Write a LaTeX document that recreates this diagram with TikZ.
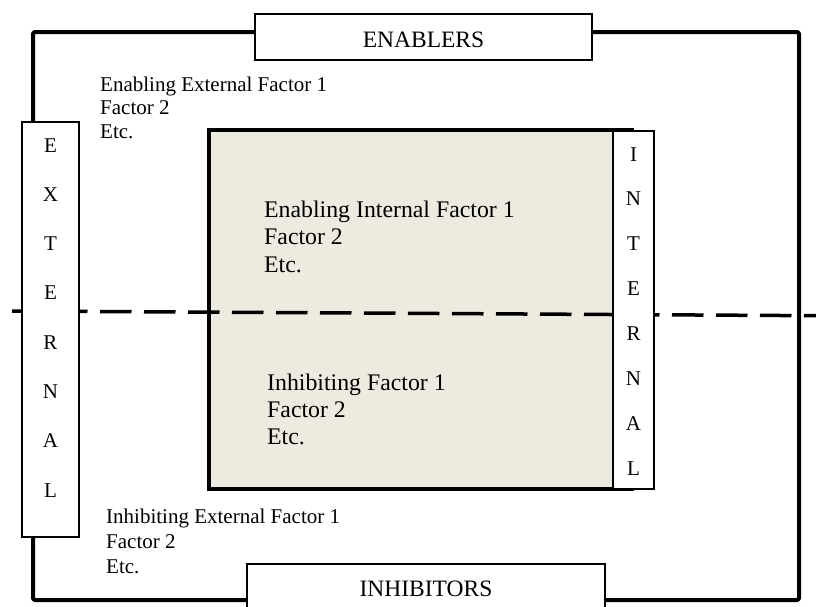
\documentclass[tikz,border=0pt]{standalone}
\usepackage{fontspec}
\setmainfont{Liberation Serif}
\definecolor{innerfill}{RGB}{237,234,224}
\begin{document}
\begin{tikzpicture}[x=1pt,y=-1pt,
  frame/.style={draw=black,line width=4pt,rounded corners=2pt,inner sep=0pt,line join=round},
  innerbox/.style={draw=black,fill=innerfill,line width=4.5pt,inner sep=0pt},
  thinbox/.style={draw=black,fill=white,line width=1.2pt,inner sep=0pt},
  dashline/.style={line width=3.5pt,dash pattern=on 31.5pt off 12.5pt},
  headtext/.style={font=\fontsize{23.5}{27}\selectfont,inner sep=0pt,anchor=base},
  lettertext/.style={font=\fontsize{21}{24}\selectfont,inner sep=0pt,anchor=base},
  exttext/.style={font=\fontsize{21}{#1}\selectfont,inner sep=0pt,anchor=base west,align=left},
  inttext/.style={font=\fontsize{23.8}{#1}\selectfont,inner sep=0pt,anchor=base west,align=left}
]
\clip (0,0) rectangle (816,606);
\useasboundingbox (0,0) rectangle (816,606);

% outer frame
\node[frame,minimum width=766pt,minimum height=568pt] (frame) at (416,316) {};
% inner field
\node[innerbox,minimum width=423pt,minimum height=359pt] (inner) at (420.5,309.5) {};
% dashed divider
\coordinate (dashL) at (12,311);
\coordinate (dashR) at (816,315.7);
\draw[dashline] (dashL) -- (dashR);

% side boxes
\node[thinbox,minimum width=57pt,minimum height=415pt] (external) at (50.5,329.5) {};
\node[thinbox,minimum width=41pt,minimum height=358pt] (internal) at (633.5,310) {};
% header / footer boxes
\node[thinbox,minimum width=337pt,minimum height=46pt] (enablers) at (423.5,37) {};
\node[thinbox,minimum width=358pt,minimum height=60pt] (inhibitors) at (426,594) {};

\node[headtext] (enablersT) at (423.5,47) {ENABLERS};
\node[headtext] (inhibitorsT) at (426,596) {INHIBITORS};

\foreach \c [count=\i] in {E,X,T,E,R,N,A,L}
  \node[lettertext] (ext\i) at (50.5,{152+49.3*(\i-1)}) {\c};
\foreach \c [count=\i] in {I,N,T,E,R,N,A,L}
  \node[lettertext] (int\i) at (633.5,{161+44.9*(\i-1)}) {\c};

% multi-line nodes: base anchor is the baseline of the last line
\node[exttext=23.5] (enext) at (100,138) {Enabling External Factor 1\\Factor 2\\Etc.};
\node[exttext=25] (inext) at (106,573) {Inhibiting External Factor 1\\Factor 2\\Etc.};
\node[inttext=27.5] (enint) at (264,272) {Enabling Internal Factor 1\\Factor 2\\Etc.};
\node[inttext=27] (inint) at (267,444) {Inhibiting Factor 1\\Factor 2\\Etc.};
\end{tikzpicture}
\end{document}
